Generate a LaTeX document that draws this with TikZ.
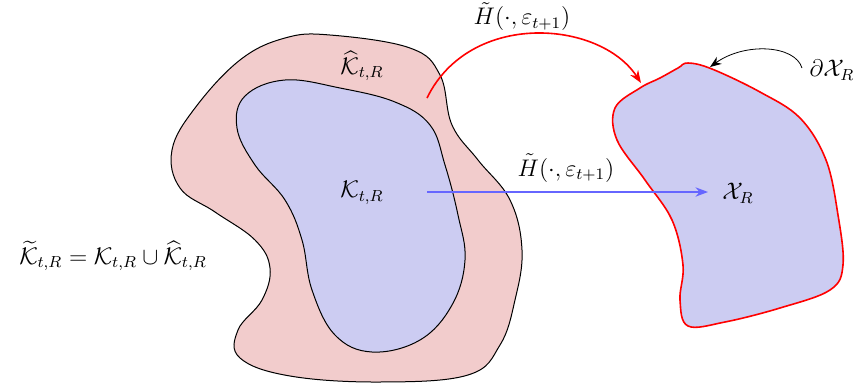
\documentclass[tikz,border=0pt]{standalone}
\usepackage{amsmath,amssymb}
\usetikzlibrary{arrows.meta, positioning}
\definecolor{setpink}{RGB}{242, 204, 204}
\definecolor{setblue}{RGB}{204, 204, 242}

\begin{document}
\begin{tikzpicture}[x=0.5pt, y=-0.5pt,
  blob/.style={draw=black, line width=0.5pt},
  bound/.style={draw=red, line width=0.8pt},
  maplabel/.style={font=\fontsize{11.5}{14}\selectfont, inner sep=1pt},
  setlabel/.style={font=\large, inner sep=1pt}]

  \useasboundingbox (0,0) rectangle (858,386);

  % outer set (pink)
  \path[blob, fill=setpink] plot[smooth cycle, tension=0.65] coordinates {
    (330,35) (410,48) (440,75) (452,125) (478,160) (510,200) (522,250)
    (515,300) (500,345) (468,375) (380,382) (290,376) (240,358) (238,330)
    (262,300) (270,268) (255,240) (215,212) (180,188) (172,150) (195,108)
    (240,60) (285,38)};

  % inner set (blue)
  \path[blob, fill=setblue] plot[smooth cycle, tension=0.65] coordinates {
    (285,80) (340,88) (395,102) (430,125) (445,165) (458,215) (465,260)
    (452,305) (420,340) (372,352) (335,335) (312,290) (302,240) (285,200)
    (255,165) (237,128) (245,96)};

  % image set
  \path[bound, fill=setblue] plot[smooth cycle, tension=0.6] coordinates {
    (688,63) (712,69) (760,92) (800,118) (826,160) (838,215) (843,265)
    (830,290) (780,308) (725,322) (688,326) (680,300) (683,265) (672,220)
    (645,180) (617,140) (615,108) (640,88) (660,78) (678,68)};

  % labels
  \node[setlabel] (kin) at (362,193) {$\mathcal{K}_{t,R}$};
  \node[setlabel] (khat) at (362,66) {$\widehat{\mathcal{K}}_{t,R}$};
  \node[setlabel] (xr) at (738,193) {$\mathcal{X}_R$};
  \node[setlabel] (dxr) at (832,70) {$\partial\mathcal{X}_R$};
  \node[setlabel] (ktil) at (113,256) {$\widetilde{\mathcal{K}}_{t,R}=\mathcal{K}_{t,R}\cup\widehat{\mathcal{K}}_{t,R}$};
  \node[maplabel] (htop) at (522,17) {$\tilde{H}(\cdot,\varepsilon_{t+1})$};
  \node[maplabel] (hmid) at (566,168) {$\tilde{H}(\cdot,\varepsilon_{t+1})$};

  \coordinate (pstart) at (427,98);
  \coordinate (pend) at (641,83);
  \coordinate (kstart) at (427,192);
  \coordinate (xend) at (708,192);
  \coordinate (bpt) at (710,67);
  \coordinate (bstart) at (802,68);

  \draw[-{Stealth[length=2.2mm]}, red, line width=0.8pt] (pstart) .. controls (470,10) and (600,20) .. (pend);
  \draw[-{Stealth[length=2.2mm]}, blue!60, line width=0.7pt] (kstart) -- (xend);
  \draw[-{Stealth[length=2mm]}, line width=0.4pt] (bstart) .. controls (795,45) and (745,42) .. (bpt);
\end{tikzpicture}
\end{document}
